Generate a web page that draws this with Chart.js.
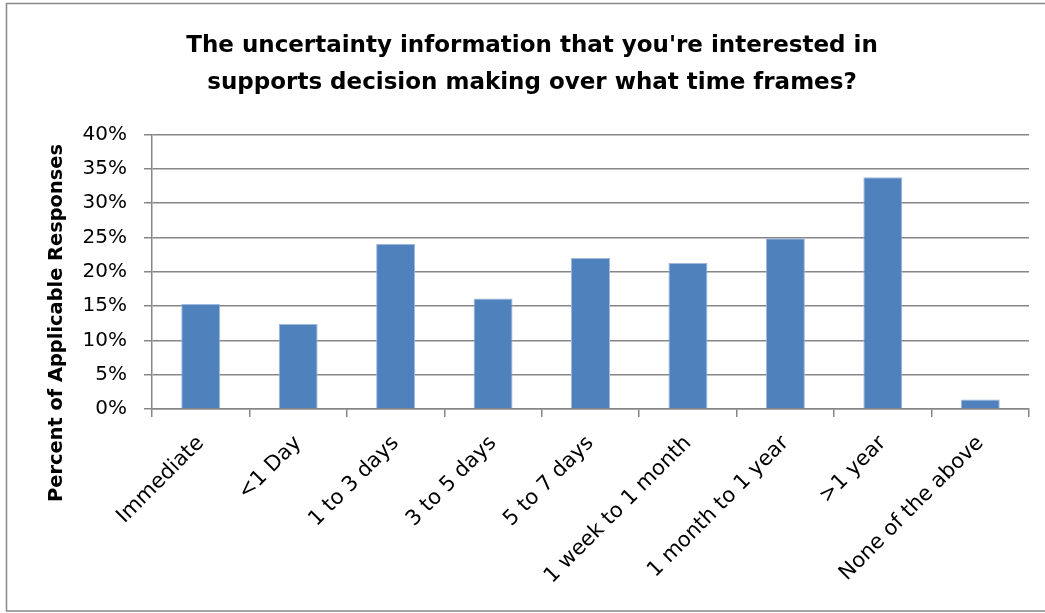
<!DOCTYPE html>
<html>
<head>
<meta charset="utf-8">
<script src="https://cdn.jsdelivr.net/npm/chart.js@4/dist/chart.umd.min.js"></script>
<style>
  html, body { margin: 0; padding: 0; background: #fff; }
  #wrap { width: 1045px; height: 613px; }
</style>
</head>
<body>
<div id="wrap"><canvas id="grafico" width="1045" height="613"></canvas></div>
<script>
// Datos
const categorias = ['Immediate', '<1 Day', '1 to 3 days', '3 to 5 days', '5 to 7 days',
    '1 week to 1 month', '1 month to 1 year', '>1 year', 'None of the above'];
const porcentajes = [15.3, 12.4, 24.1, 16.1, 22.0, 21.3, 24.9, 33.8, 1.4];
const ticksY = [0, 5, 10, 15, 20, 25, 30, 35, 40];
const tituloEjeY = 'Percent of Applicable Responses';

const fuente = '"DejaVu Sans", sans-serif';

// Borde exterior y título del eje Y
const bordePlugin = {
    id: 'borde',
    beforeDraw(chart) {
        const c = chart.ctx;
        c.save();
        c.fillStyle = '#fff';
        c.fillRect(0, 0, chart.width, chart.height);
        c.strokeStyle = '#888';
        c.lineWidth = 1.5;
        c.beginPath();
        c.moveTo(chart.width, 3.5);
        c.lineTo(6.5, 3.5);
        c.lineTo(6.5, 611);
        c.lineTo(chart.width, 611);
        c.stroke();
        c.restore();
    },
    afterDraw(chart) {
        const c = chart.ctx;
        c.save();
        c.translate(57, 323);
        c.rotate(-Math.PI / 2);
        c.fillStyle = '#000';
        c.font = 'bold 19.4px ' + fuente;
        c.textAlign = 'center';
        c.textBaseline = 'middle';
        c.fillText(tituloEjeY, 0, 0);
        c.restore();
    }
};

new Chart(document.getElementById('grafico').getContext('2d'), {
    type: 'bar',
    data: {
        labels: categorias,
        datasets: [{
            data: porcentajes,
            backgroundColor: '#4F81BD',
            borderColor: '#9FB9DC',
            borderWidth: 1,
            barPercentage: 0.4,
            categoryPercentage: 1
        }]
    },
    options: {
        responsive: false,
        animation: false,
        layout: { padding: { left: 35, right: 16, bottom: 0 } },
        plugins: {
            legend: { display: false },
            tooltip: { enabled: false },
            title: {
                display: true,
                text: ["The uncertainty information that you're interested in",
                       'supports decision making over what time frames?'],
                color: '#000',
                font: { family: fuente, size: 23, weight: 'bold', lineHeight: 1.6 },
                padding: { top: 27.5, bottom: 33.5 }
            }
        },
        scales: {
            x: {
                afterFit(s) { s.height = 204; },
                grid: { display: true, drawOnChartArea: false, offset: true, color: '#868686', lineWidth: 1.5, tickLength: 8 },
                border: { color: '#868686', width: 1.5 },
                ticks: {
                    color: '#000',
                    font: { family: fuente, size: 21 },
                    padding: 14,
                    maxRotation: 45, minRotation: 45,
                    autoSkip: false
                }
            },
            y: {
                min: 0, max: 40,
                afterFit(s) { s.width = 117; },
                afterBuildTicks(s) { s.ticks = ticksY.map(v => ({ value: v })); },
                grid: { color: '#868686', lineWidth: 1.5, tickLength: 8 },
                border: { color: '#868686', width: 1.5 },
                ticks: {
                    color: '#000',
                    font: { family: fuente, size: 20 },
                    padding: 17,
                    callback: v => v + '%'
                }
            }
        }
    },
    plugins: [bordePlugin]
});
</script>
</body>
</html>
